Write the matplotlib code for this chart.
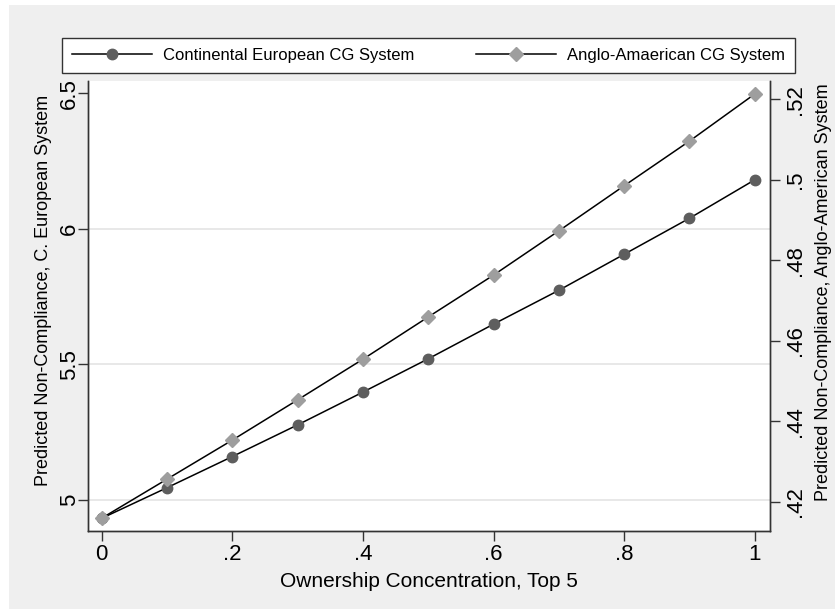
import matplotlib
matplotlib.use('Agg')
import matplotlib.pyplot as plt
from matplotlib.patches import Rectangle

plt.rcParams['font.family'] = ['Liberation Sans', 'DejaVu Sans']

# Ownership concentration (top 5) and predicted non-compliance
conc = [0.0, 0.1, 0.2, 0.3, 0.4, 0.5, 0.6, 0.7, 0.8, 0.9, 1.0]
continental = [4.931, 5.044, 5.159, 5.276, 5.397, 5.520, 5.648, 5.773, 5.906, 6.039, 6.181]
anglo = [0.4159, 0.4256, 0.4353, 0.4453, 0.4554, 0.4659, 0.4763, 0.4873, 0.4985, 0.5096, 0.5213]

x_ticks = [0, 0.2, 0.4, 0.6, 0.8, 1.0]
x_tick_labels = ['0', '.2', '.4', '.6', '.8', '1']
left_ticks = [5, 5.5, 6, 6.5]
left_tick_labels = ['5', '5.5', '6', '6.5']
right_ticks = [0.42, 0.44, 0.46, 0.48, 0.50, 0.52]
right_tick_labels = ['.42', '.44', '.46', '.48', '.5', '.52']

W, H = 835, 609
fig = plt.figure(figsize=(W / 100, H / 100), dpi=100, facecolor='white')
# Stata-like light gray graph region
fig.patches.append(Rectangle((9 / W, 0 / H), (W - 9) / W, (H - 5) / H,
                             transform=fig.transFigure, facecolor='#efefef',
                             edgecolor='none', zorder=-10))

ax = fig.add_axes([88 / W, (H - 531.3) / H, (770 - 88) / W, (531.3 - 81) / H])
ax.set_facecolor('white')
ax2 = ax.twinx()

dark = '#5e5e5e'
light = '#9e9e9e'
axcol = '#333333'

l1, = ax.plot(conc, continental, color='black', lw=1.1, marker='o', ms=7.5,
              mfc=dark, mec=dark, label='Continental European CG System', zorder=3)
l2, = ax2.plot(conc, anglo, color='black', lw=1.1, marker='D', ms=7.5,
               mfc=light, mec=light, label='Anglo-Amaerican CG System', zorder=3)

ax.set_xlim(-0.021, 1.0234)
ax.set_ylim(4.883, 6.546)
ax2.set_ylim(0.41264, 0.52454)

ax.set_xticks(x_ticks)
ax.set_xticklabels(x_tick_labels)
ax.set_yticks(left_ticks)
ax.set_yticklabels(left_tick_labels, rotation=90, va='center')
ax2.set_yticks(right_ticks)
ax2.set_yticklabels(right_tick_labels, rotation=90, va='center')

# grid lines at 5, 5.5, 6 only
for g in left_ticks[:-1]:
    ax.axhline(g, color='#e6e6e6', lw=1.3, zorder=1)

for a in (ax, ax2):
    a.spines['top'].set_visible(False)
    for s in ('left', 'right', 'bottom'):
        a.spines[s].set_color(axcol)
        a.spines[s].set_linewidth(1.0)
    a.tick_params(axis='both', length=7, width=1.0, color=axcol,
                  labelsize=16, pad=2)
ax.tick_params(axis='y', pad=-1.5)
ax2.tick_params(axis='y', pad=4)

ax.set_xlabel('Ownership Concentration, Top 5', fontsize=15, labelpad=5)
ax.set_ylabel('Predicted Non-Compliance, C. European System', fontsize=13, labelpad=5.5)
ax2.set_ylabel('Predicted Non-Compliance, Anglo-American System', fontsize=13,
               labelpad=6, rotation=90)
ax.yaxis.label.set_y(0.535)
ax2.yaxis.label.set_y(0.53)

leg = fig.legend(handles=[l1, l2], ncol=2, loc='lower left',
                 bbox_to_anchor=(62 / W, (H - 73) / H, (795 - 62) / W, 40 / H),
                 mode='expand', borderaxespad=0, fontsize=12, frameon=True,
                 fancybox=False, handlelength=4.8, handletextpad=0.65,
                 borderpad=0.6, numpoints=1)
fr = leg.get_frame()
fr.set_edgecolor(axcol)
fr.set_linewidth(1.0)
fr.set_facecolor('white')
fr.set_alpha(1)

fig.savefig('out.png', dpi=100, facecolor=fig.get_facecolor())
